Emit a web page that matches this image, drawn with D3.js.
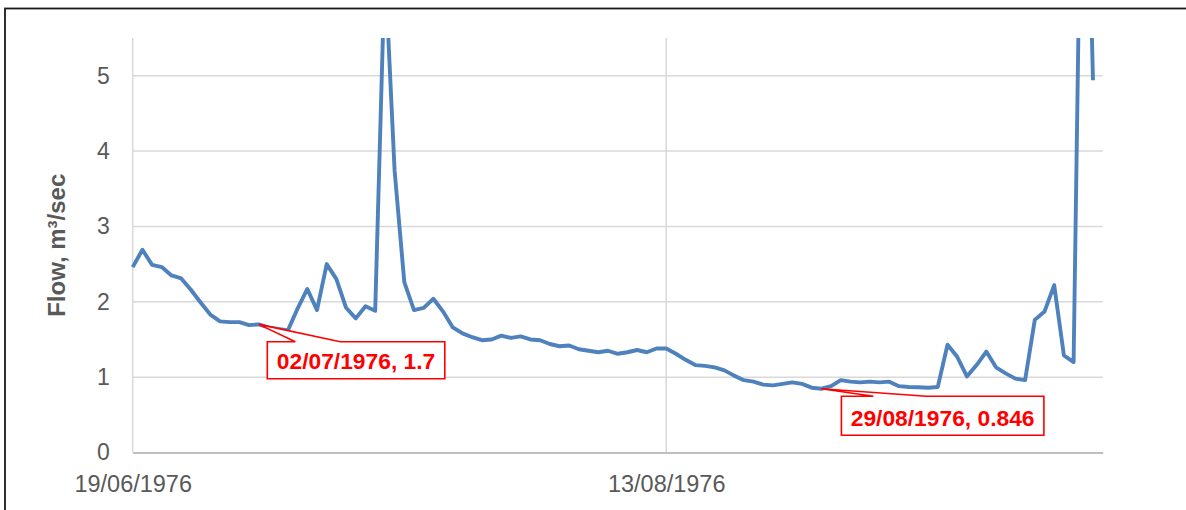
<!DOCTYPE html>
<html>
<head>
<meta charset="utf-8">
<script src="https://cdn.jsdelivr.net/npm/d3@7"></script>
<style>
  html, body { margin: 0; padding: 0; background: #fff; }
  svg { display: block; }
</style>
</head>
<body>
<svg id="chart" width="1186" height="510"></svg>
<script>
// ---- data ----
const startDate = "1976-06-19";   // first daily observation
const endDate = "1976-09-27";     // axis maximum
const flows = [
  2.46, 2.69, 2.49, 2.46, 2.35, 2.31, 2.16, 1.99, 1.83, 1.74,
  1.73, 1.73, 1.69, 1.70, 1.66, 1.64, 1.62, 1.91, 2.17, 1.89,
  2.50, 2.30, 1.92, 1.78, 1.94, 1.88, 6.47, 3.74, 2.26, 1.89,
  1.92, 2.04, 1.87, 1.66, 1.58, 1.53, 1.49, 1.50, 1.55, 1.52,
  1.54, 1.50, 1.49, 1.44, 1.41, 1.42, 1.37, 1.35, 1.33, 1.35,
  1.31, 1.33, 1.36, 1.33, 1.38, 1.38, 1.31, 1.23, 1.16, 1.15,
  1.13, 1.09, 1.02, 0.96, 0.94, 0.90, 0.89, 0.91, 0.93, 0.91,
  0.86, 0.846, 0.88, 0.96, 0.94, 0.93, 0.94, 0.93, 0.94, 0.88,
  0.87, 0.865, 0.86, 0.87, 1.43, 1.27, 1.01, 1.16, 1.34, 1.13,
  1.05, 0.98, 0.96, 1.76, 1.87, 2.22, 1.29, 1.20, 10.0, 4.94
];
const xTickDates = ["1976-06-19", "1976-08-13"];
const yTicks = [0, 1, 2, 3, 4, 5];
const yMax = 5.5;
const yTitle = "Flow, m³/sec";
const annotDates = ["1976-07-02", "1976-08-29"];
const annotValues = [1.7, 0.846];
const annotLabels = ["02/07/1976, 1.7", "29/08/1976, 0.846"];

// ---- layout ----
const parse = d3.utcParse("%Y-%m-%d");
const fmt = d3.utcFormat("%d/%m/%Y");
const L = 132.7, R = 1102.7, T = 38, B = 452.5;
const svg = d3.select("#chart");
const FONT = "'Liberation Sans', Arial, sans-serif";

const x = d3.scaleUtc().domain([parse(startDate), parse(endDate)]).range([L, R]);
const y = d3.scaleLinear().domain([0, yMax]).range([B, T]);

const series = flows.map((v, i) => ({ date: d3.utcDay.offset(parse(startDate), i), value: v }));

// outer border
svg.append("rect").attr("x", 5).attr("y", 8.5).attr("width", 1300).attr("height", 600)
  .attr("fill", "none").attr("stroke", "#1a1a1a").attr("stroke-width", 1.8);

// horizontal gridlines
svg.append("g").selectAll("line").data(yTicks.filter(t => t > 0)).join("line")
  .attr("x1", L).attr("x2", R).attr("y1", d => y(d)).attr("y2", d => y(d))
  .attr("stroke", "#d9d9d9").attr("stroke-width", 1.5);

// vertical gridlines
svg.append("g").selectAll("line").data(xTickDates).join("line")
  .attr("x1", d => x(parse(d))).attr("x2", d => x(parse(d)))
  .attr("y1", T).attr("y2", B)
  .attr("stroke", "#d9d9d9").attr("stroke-width", 1.5);

// x axis
const xAxis = svg.append("g").attr("transform", `translate(0,${B})`)
  .call(d3.axisBottom(x).tickValues(xTickDates.map(parse)).tickFormat(fmt).tickSize(0).tickPadding(22.5));
xAxis.select(".domain").attr("stroke", "#bfbfbf").attr("stroke-width", 2);
xAxis.selectAll("text").attr("font-family", FONT).attr("font-size", 23.5).attr("fill", "#595959");

// y axis
const yAxis = svg.append("g").attr("transform", `translate(${L},0)`)
  .call(d3.axisLeft(y).tickValues(yTicks).tickFormat(d3.format("d")).tickSize(0).tickPadding(23));
yAxis.select(".domain").remove();
yAxis.selectAll("text").attr("font-family", FONT).attr("font-size", 23).attr("fill", "#595959");

// y title
svg.append("text")
  .attr("transform", `translate(64.5,${(T + B) / 2}) rotate(-90)`)
  .attr("text-anchor", "middle")
  .attr("font-family", FONT).attr("font-size", 24).attr("font-weight", "bold")
  .attr("fill", "#595959")
  .text(yTitle);

// clip
svg.append("clipPath").attr("id", "plotclip")
  .append("rect").attr("x", L - 3).attr("y", T).attr("width", R - L + 6).attr("height", B - T + 3);

svg.append("path")
  .datum(series)
  .attr("clip-path", "url(#plotclip)")
  .attr("fill", "none")
  .attr("stroke", "#4f81bd")
  .attr("stroke-width", 3.9)
  .attr("stroke-linejoin", "round")
  .attr("d", d3.line().x(d => x(d.date)).y(d => y(d.value)));

// callouts
const boxes = [
  { dx0: 8.5, dx1: 186, dy0: 17.3, dy1: 54.3, w0: 36.5, w1: 81.5 },
  { dx0: 20, dx1: 222.5, dy0: 7.5, dy1: 46.5, w0: 52, w1: 105 }
];
annotDates.forEach((d, i) => {
  const px = x(parse(d)), py = y(annotValues[i]);
  const b = boxes[i];
  const x0 = px + b.dx0, x1 = px + b.dx1, y0 = py + b.dy0, y1 = py + b.dy1;
  const p = d3.path();
  p.moveTo(x0, y0);
  p.lineTo(px + b.w0, y0);
  p.lineTo(px, py);
  p.lineTo(px + b.w1, y0);
  p.lineTo(x1, y0);
  p.lineTo(x1, y1);
  p.lineTo(x0, y1);
  p.closePath();
  svg.append("path").attr("d", p.toString())
    .attr("fill", "#fff").attr("stroke", "#ff0000").attr("stroke-width", 1.6)
    .attr("stroke-linejoin", "miter");
  svg.append("text")
    .attr("x", (x0 + x1) / 2).attr("y", y1 - 9.5)
    .attr("text-anchor", "middle")
    .attr("font-family", FONT).attr("font-size", 22.8).attr("font-weight", "bold")
    .attr("fill", "#ff0000")
    .text(annotLabels[i]);
});
</script>
</body>
</html>
